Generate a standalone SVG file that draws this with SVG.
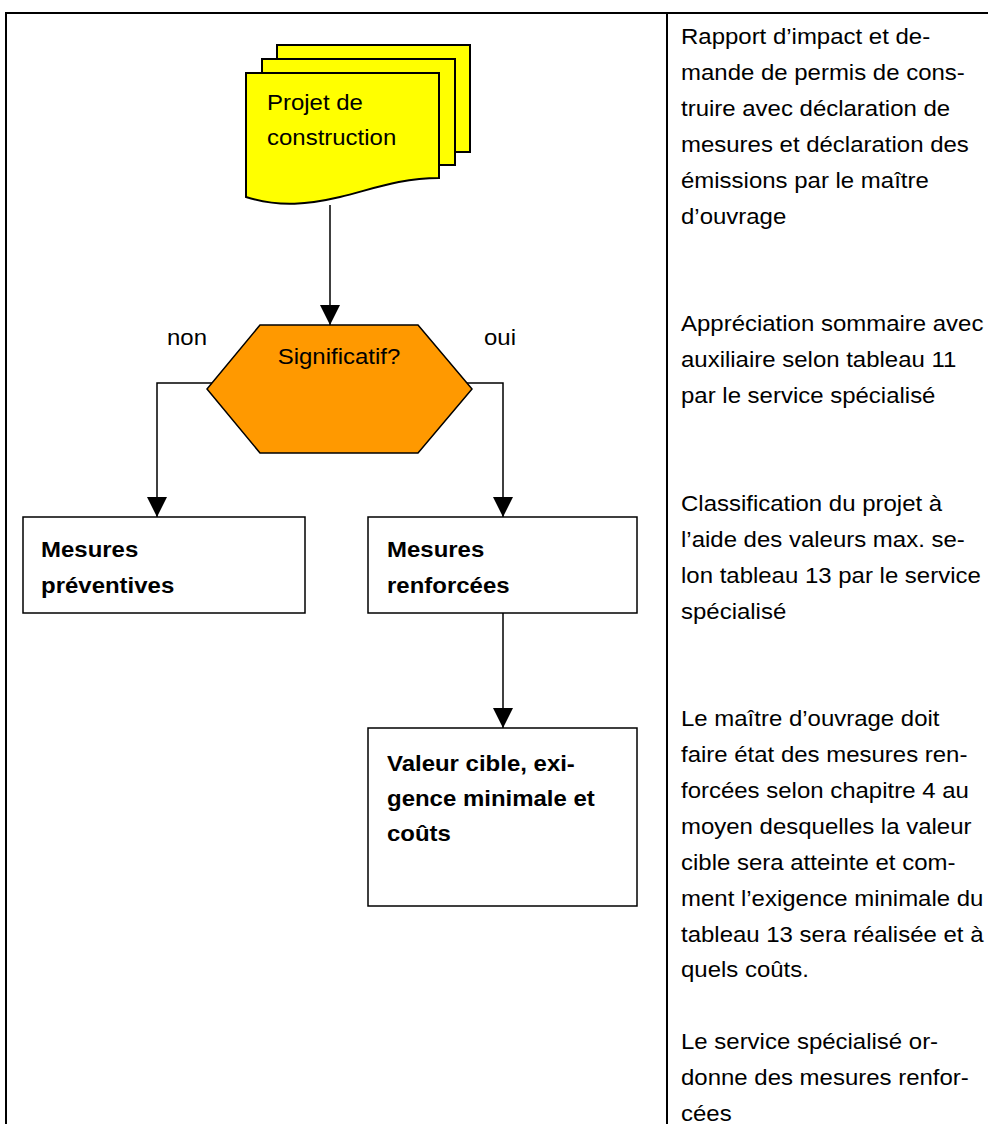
<svg xmlns="http://www.w3.org/2000/svg" width="988" height="1124" viewBox="0 0 988 1124">
<style>
.t{font-family:"Liberation Sans",Arial,sans-serif;font-size:22px;fill:#000}
.b{font-weight:bold}
.frame{stroke:#000;stroke-width:2;fill:none}
.doc{fill:#FFFF00;stroke:#000;stroke-width:2}
.box{fill:#fff;stroke:#000;stroke-width:1.5}
.con{fill:none;stroke:#000;stroke-width:1.5}
</style>
<defs>
<marker id="arr" viewBox="0 0 20 20" markerWidth="20" markerHeight="20" refX="20" refY="10" orient="auto" markerUnits="userSpaceOnUse">
<path d="M0,0 L20,10 L0,20 Z" fill="#000"/>
</marker>
</defs>
<rect width="988" height="1124" fill="#fff"/>
<g id="frame">
<line class="frame" x1="5" y1="13" x2="988" y2="13"/>
<line class="frame" x1="6" y1="13" x2="6" y2="1124"/>
<line class="frame" x1="667" y1="13" x2="667" y2="1124"/>
</g>
<g id="connectors">
<line class="con" x1="330" y1="205" x2="330" y2="325" marker-end="url(#arr)"/>
<polyline class="con" points="212,383 157,383 157,517" marker-end="url(#arr)"/>
<polyline class="con" points="467,383 503,383 503,517" marker-end="url(#arr)"/>
<line class="con" x1="503" y1="613" x2="503" y2="728" marker-end="url(#arr)"/>
</g>
<g id="projet">
<rect class="doc" x="277" y="45" width="193" height="107"/>
<rect class="doc" x="262" y="59" width="193" height="106"/>
<path class="doc" d="M246,73 H439 V178 C400,178 370,190 340,197 C310,204 280,208 246,197 Z"/>
<g transform="translate(267,0) scale(1.09,1)">
<text class="t" x="0" y="110">Projet de</text>
<text class="t" x="0" y="145">construction</text>
</g>
</g>
<g id="significatif">
<polygon points="260,325 418,325 472,389 418,453 260,453 207,389" fill="#FF9900" stroke="#000" stroke-width="1.5"/>
<g transform="translate(339,0) scale(1.09,1)">
<text class="t" x="0" y="364" text-anchor="middle">Significatif?</text>
</g>
</g>
<g id="label-non" transform="translate(167,0) scale(1.09,1)">
<text class="t" x="0" y="345">non</text>
</g>
<g id="label-oui" transform="translate(484,0) scale(1.09,1)">
<text class="t" x="0" y="345">oui</text>
</g>
<g id="preventives">
<rect class="box" x="23" y="517" width="282" height="96"/>
<g transform="translate(41,0) scale(1.09,1)">
<text class="t b" x="0" y="557">Mesures</text>
<text class="t b" x="0" y="593">préventives</text>
</g>
</g>
<g id="renforcees">
<rect class="box" x="368" y="517" width="269" height="96"/>
<g transform="translate(387,0) scale(1.09,1)">
<text class="t b" x="0" y="557">Mesures</text>
<text class="t b" x="0" y="593">renforcées</text>
</g>
</g>
<g id="valeur">
<rect class="box" x="368" y="728" width="269" height="178"/>
<g transform="translate(387,0) scale(1.09,1)">
<text class="t b" x="0" y="771">Valeur cible, exi-</text>
<text class="t b" x="0" y="806">gence minimale et</text>
<text class="t b" x="0" y="841">coûts</text>
</g>
</g>
<g id="descriptions" transform="translate(681,0) scale(1.09,1)">
<text class="t" x="0" y="44">Rapport d’impact et de-</text>
<text class="t" x="0" y="80">mande de permis de cons-</text>
<text class="t" x="0" y="116">truire avec déclaration de</text>
<text class="t" x="0" y="152">mesures et déclaration des</text>
<text class="t" x="0" y="188">émissions par le maître</text>
<text class="t" x="0" y="224">d’ouvrage</text>
<text class="t" x="0" y="331">Appréciation sommaire avec</text>
<text class="t" x="0" y="367">auxiliaire selon tableau 11</text>
<text class="t" x="0" y="403">par le service spécialisé</text>
<text class="t" x="0" y="511">Classification du projet à</text>
<text class="t" x="0" y="547">l’aide des valeurs max. se-</text>
<text class="t" x="0" y="583">lon tableau 13 par le service</text>
<text class="t" x="0" y="619">spécialisé</text>
<text class="t" x="0" y="726">Le maître d’ouvrage doit</text>
<text class="t" x="0" y="762">faire état des mesures ren-</text>
<text class="t" x="0" y="798">forcées selon chapitre 4 au</text>
<text class="t" x="0" y="834">moyen desquelles la valeur</text>
<text class="t" x="0" y="870">cible sera atteinte et com-</text>
<text class="t" x="0" y="906">ment l’exigence minimale du</text>
<text class="t" x="0" y="942">tableau 13 sera réalisée et à</text>
<text class="t" x="0" y="977">quels coûts.</text>
<text class="t" x="0" y="1049">Le service spécialisé or-</text>
<text class="t" x="0" y="1085">donne des mesures renfor-</text>
<text class="t" x="0" y="1121">cées</text>
</g>
</svg>
